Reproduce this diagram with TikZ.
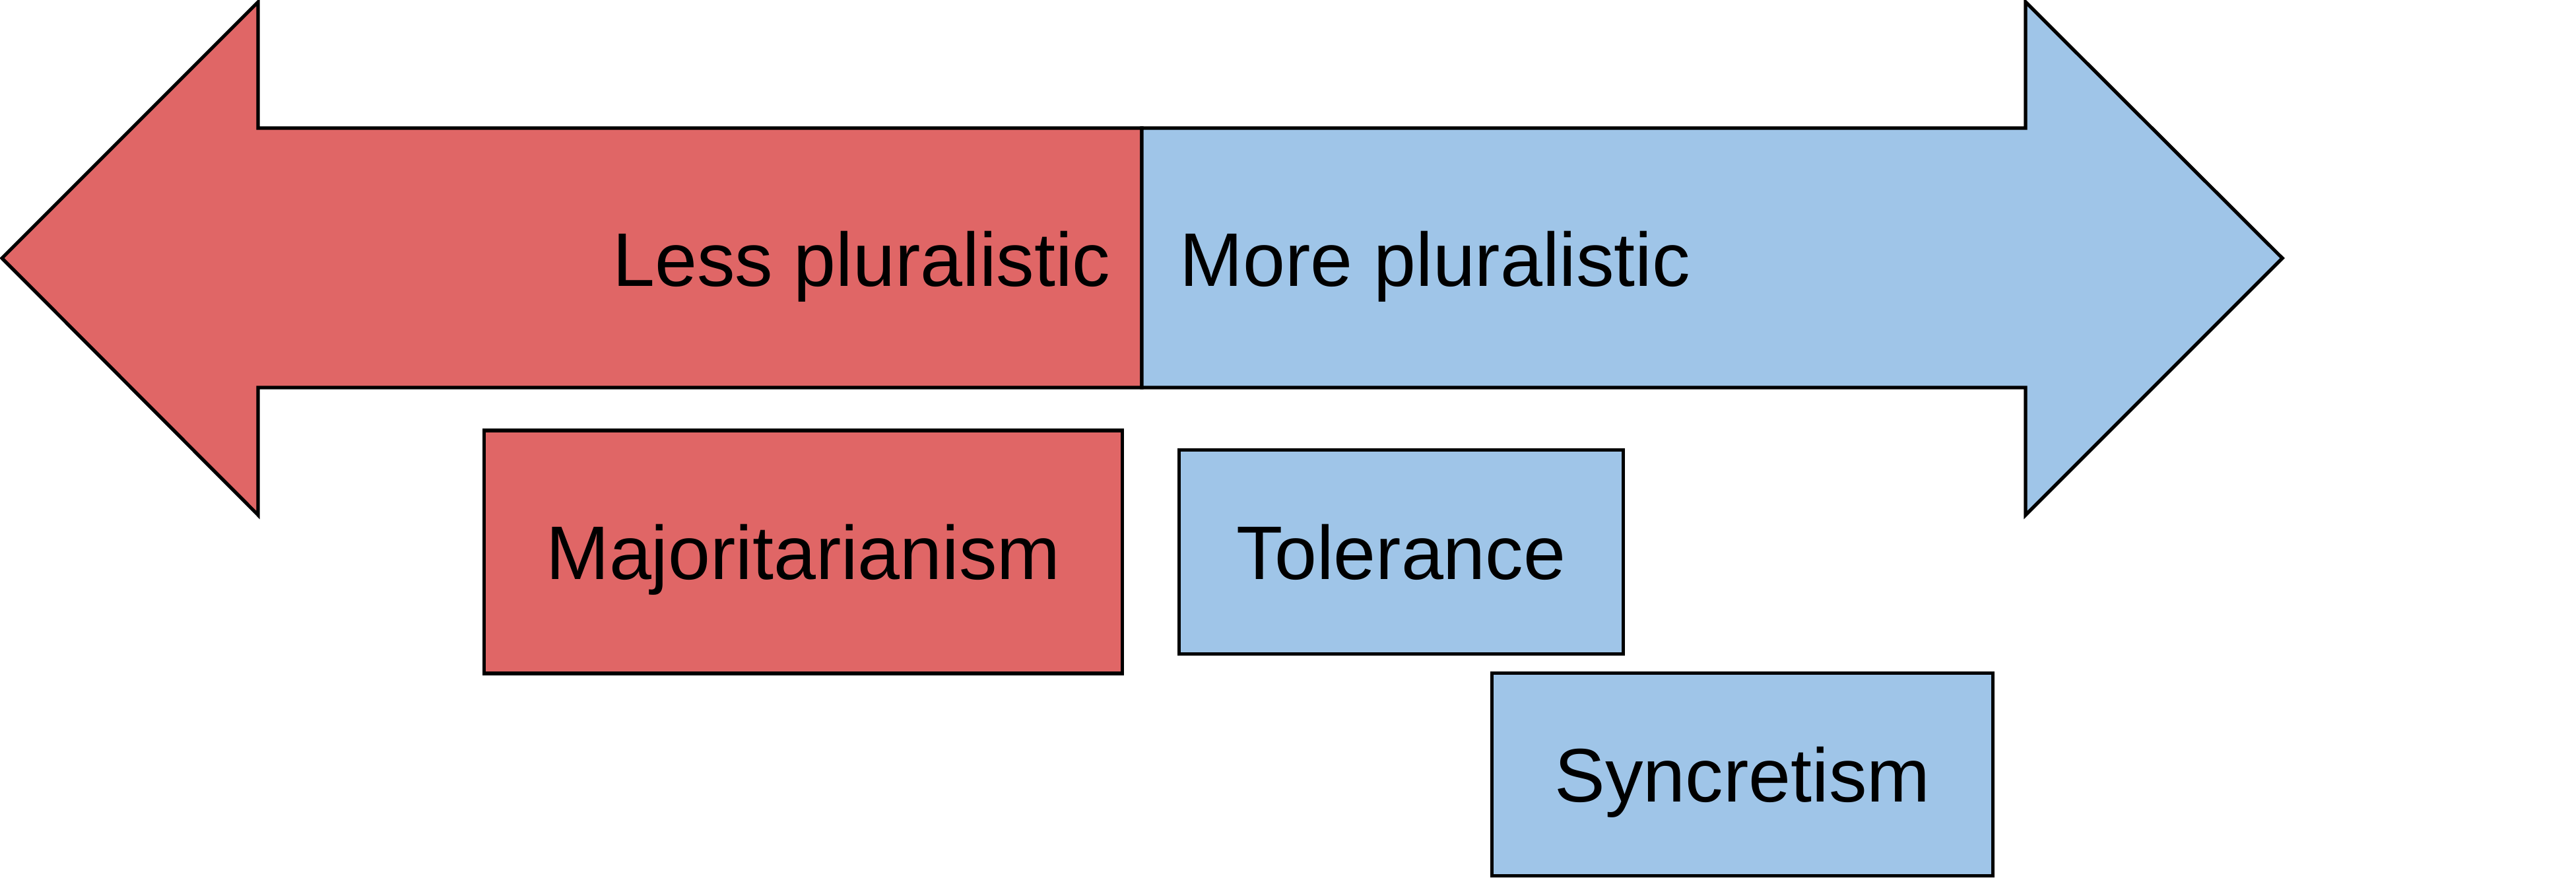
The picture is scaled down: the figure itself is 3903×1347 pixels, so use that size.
\documentclass[tikz,border=0pt]{standalone}
\usepackage{fontspec}
\setmainfont{Liberation Sans}
\usepackage{tikz}
\usetikzlibrary{positioning}
\definecolor{lessred}{HTML}{E06666}
\definecolor{moreblue}{HTML}{9FC5E8}

\begin{document}
\begin{tikzpicture}[
  x=0.01cm, y=-0.01cm,
  halfarrow/.style={draw=black, line width=1.5pt, line join=miter},
  box/.style={draw=black, line width=1.5pt, align=center, inner sep=0pt,
    font=\fontsize{32.7}{39}\selectfont, text height=23.4pt, text depth=0pt},
  label/.style={font=\fontsize{32.7}{39}\selectfont, inner sep=0pt}
]
\useasboundingbox (0,0) rectangle (3903,1347);

% the two halves of the double arrow
\draw[halfarrow, fill=lessred] (1730,194) -- (391,194) -- (391,3) -- (3,391)
  -- (391,780) -- (391,587) -- (1730,587) -- cycle;
\draw[halfarrow, fill=moreblue] (1730,194) -- (3069,194) -- (3069,3) -- (3458,391)
  -- (3069,780) -- (3069,587) -- (1730,587) -- cycle;

\node[label, anchor=base east] (less) at (1683,433) {Less pluralistic};
\node[label, anchor=base west] (more) at (1787,433) {More pluralistic};

% boxes below
\node[box, fill=lessred, minimum width=9.66cm, minimum height=3.68cm] (major) at (1217,836) {Majoritarianism};
\node[box, fill=moreblue, minimum width=6.72cm, minimum height=3.09cm] (toler) at (2123,836) {Tolerance};
\node[box, fill=moreblue, minimum width=7.59cm, minimum height=3.07cm] (syncr) at (2640,1173) {Syncretism};

\end{tikzpicture}
\end{document}
